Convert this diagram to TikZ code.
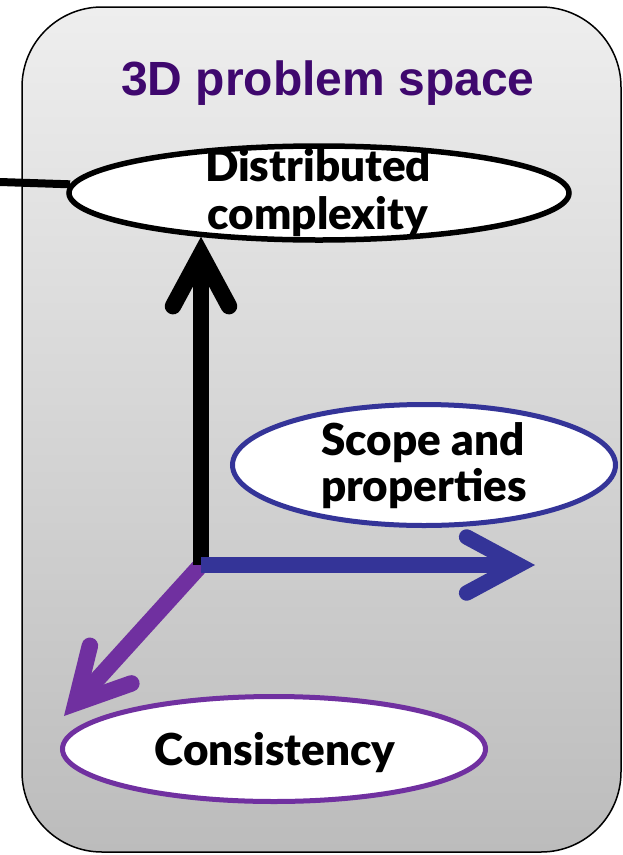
\documentclass[tikz,border=0pt]{standalone}
\usepackage{fontspec}
\setmainfont{Lato}[BoldFont={Lato Black}]
\newfontfamily\titlefont{Liberation Sans}
\usetikzlibrary{shapes.geometric,arrows.meta}
\definecolor{titlepurple}{RGB}{63,8,110}
\definecolor{axisblue}{RGB}{52,52,152}
\definecolor{axispurple}{RGB}{112,48,160}
\definecolor{panetop}{RGB}{238,238,238}
\definecolor{panebottom}{RGB}{188,188,188}
\tikzset{
  axisnode/.style={ellipse, fill=white, inner sep=0pt, line width=5pt},
  lbl/.style={font=\bfseries\fontsize{44}{50}\selectfont, anchor=base, inner sep=0pt},
  % light drop shadow under each axis
  shadowed/.style={preaction={draw=black, opacity=0.18,
      transform canvas={shift={(2pt,-4pt)}}}},
  axis/.style={shadowed, line width=16.5pt,
    -{Straight Barb[length=52pt, width=56pt, line cap=round, line join=miter]}}
}
\begin{document}
\begin{tikzpicture}[x=1pt,y=-1pt]
\useasboundingbox (0,0) rectangle (623,855);
% panel
\shade[top color=panetop, bottom color=panebottom, draw=black, line width=1.5pt,
  rounded corners=80pt] (22,7) rectangle (621,852);
\node[font=\titlefont\bfseries\fontsize{48}{56}\selectfont, text=titlepurple,
  anchor=base, inner sep=0pt] (title) at (328,95) {3D problem space};

% axis ellipses
\node[axisnode, draw=black, line width=5.5pt, minimum width=500pt, minimum height=94pt] (dc) at (319,193) {};
\node[axisnode, draw=axisblue, minimum width=383pt, minimum height=121pt] (sp) at (424,465) {};
\node[axisnode, draw=axispurple, minimum width=423pt, minimum height=105pt] (cs) at (274,749) {};

% coordinates for the axes
\coordinate (o) at (201,565);
\coordinate (btip) at (535,565);
\coordinate (ctip) at (64,716);
\coordinate (feed) at (0,182);

% incoming link
\draw[line width=8pt] (feed) -- (dc.178);

% axes
\draw[axis, axispurple] (o) -- (ctip);
\draw[axis, black] (o) -- (o |- dc.200);
\draw[axis, axisblue, line width=15.5pt] (o) -- (btip);

% labels
\node[lbl] (dc1) at (318,181) {Distributed};
\node[lbl] (dc2) at (318,229) {complexity};
\node[lbl] (sp1) at (423,455) {Scope and};
\node[lbl] (sp2) at (424,501) {properties};
\node[lbl] (cs1) at (275,765) {Consistency};
\end{tikzpicture}
\end{document}
